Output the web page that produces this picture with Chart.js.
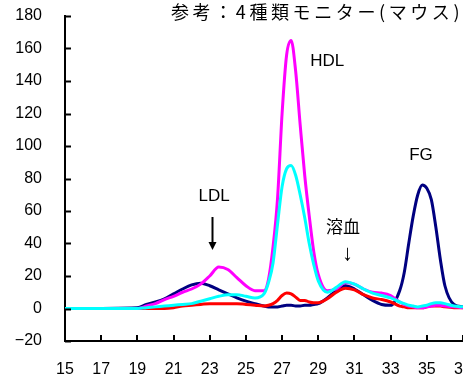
<!DOCTYPE html>
<html>
<head>
<meta charset="utf-8">
<script src="https://cdn.jsdelivr.net/npm/chart.js@4.4.1/dist/chart.umd.min.js"></script>
<style>
  html, body { margin: 0; padding: 0; background: #fff; overflow: hidden; }
  #grafica { display: block; }
</style>
</head>
<body>
<canvas id="grafica" width="500" height="376"></canvas>
<script>
// Posiciones (eje x) y valores de cada curva
const posiciones = [15, 19, 19.5, 20, 20.5, 21, 21.5, 22, 22.5, 23, 23.5, 24, 24.5, 25, 25.5, 26, 26.25, 26.5, 26.75, 27, 27.25, 27.5, 27.75, 28, 28.25, 28.5, 28.75, 29, 29.5, 30, 30.5, 31, 31.5, 32, 32.5, 33, 33.5, 33.75, 34, 34.25, 34.5, 34.75, 35, 35.25, 35.5, 35.75, 36, 36.5, 37];

const serieMagenta = [0, 0, 1.5, 3, 5.5, 7.5, 10, 12, 15, 20, 25.5, 24, 19, 14, 11, 11, 18, 38, 68, 120, 156, 165, 146, 113, 82, 57, 35, 21, 11, 12, 16, 15, 12, 10, 9.5, 8, 4, 2.5, 1.5, 1, 0.5, 0.5, 1, 1.5, 2, 2, 1.5, 1, 0.5];
const serieCian = [0, 0, 0.5, 1, 1.5, 2, 2.5, 3, 4.5, 6, 7.5, 8.5, 8.5, 7.5, 6.5, 9, 16, 28, 52, 75, 86, 88, 82, 70, 56, 40, 27, 17, 10, 13, 16.5, 15, 12, 9.5, 8, 6.5, 4, 3, 2, 1.5, 1, 1.5, 2, 3, 3.5, 3.5, 3, 1.5, 1];
const serieRoja = [0, 0, 0, 0, 0, 0.5, 1.5, 2, 2.5, 3, 3, 3, 3, 2.5, 2, 1.5, 2, 3, 5, 8, 9.5, 9, 7, 5, 5, 4, 3.5, 3.5, 6, 10, 12.5, 11.5, 8.5, 6.5, 5.5, 4, 1.5, 1, 0.5, 0.5, 0.5, 0.5, 1, 1.5, 1.5, 1.5, 1, 0.5, 0.5];
const serieAzul = [0, 0.5, 2.5, 4, 6, 9, 12, 14.5, 15.5, 14, 11.5, 9, 6.5, 4.5, 3, 1.5, 1, 1, 1, 1.5, 2, 2, 1.5, 1.5, 2, 2, 2.5, 3, 6.5, 11, 14, 12, 8.5, 5, 2.5, 2, 11, 22, 40, 57, 70, 76, 74, 67, 50, 30, 14, 2.5, 1];

const ejeX = { min: 15, max: 37, paso: 2 };
const ejeY = { min: -20, max: 180, paso: 20 };

const titulo = "参考：4種類モニター(マウス)";

// Etiquetas de texto sobre la gráfica: [texto, x, y, tamaño]
const etiquetas = [
    ["HDL", 29.5, 152, 17],
    ["FG", 34.68, 94.5, 17],
    ["LDL", 23.24, 69.2, 17],
    ["溶血", 30.37, 49.5, 17],
    ["↓", 30.62, 33.5, 22]
];
const flechaLDL = { x: 23.13, desde: 56.3, hasta: 36 };

function puntos(valores) {
    return posiciones.map((x, i) => ({ x: x, y: valores[i] }));
}

const fuente = "'Liberation Sans', 'Noto Sans CJK JP', Arial, sans-serif";

// Marcas hacia adentro, textos y flecha
const decoraciones = {
    id: "decoraciones",
    afterDraw(chart) {
        const ctx = chart.ctx;
        const x = chart.scales.x;
        const y = chart.scales.y;
        ctx.save();
        ctx.strokeStyle = "#000";
        ctx.lineWidth = 2;
        y.ticks.forEach(t => {
            const py = Math.round(y.getPixelForValue(t.value)) + 0.5;
            ctx.beginPath();
            ctx.moveTo(x.left, py);
            ctx.lineTo(x.left + 6, py);
            ctx.stroke();
        });
        x.ticks.forEach(t => {
            const px = Math.round(x.getPixelForValue(t.value));
            ctx.beginPath();
            ctx.moveTo(px, y.bottom);
            ctx.lineTo(px, y.bottom - 6);
            ctx.stroke();
        });

        ctx.fillStyle = "#000";
        ctx.textAlign = "center";
        ctx.textBaseline = "middle";
        etiquetas.forEach(e => {
            ctx.font = e[3] + "px " + fuente;
            ctx.fillText(e[0], x.getPixelForValue(e[1]), y.getPixelForValue(e[2]));
        });

        // Flecha del LDL
        const fx = Math.round(x.getPixelForValue(flechaLDL.x)) + 0.5;
        const y1 = y.getPixelForValue(flechaLDL.desde);
        const y2 = y.getPixelForValue(flechaLDL.hasta);
        ctx.lineWidth = 2;
        ctx.beginPath();
        ctx.moveTo(fx, y1);
        ctx.lineTo(fx, y2 - 6);
        ctx.stroke();
        ctx.beginPath();
        ctx.moveTo(fx - 4, y2 - 8);
        ctx.lineTo(fx + 4, y2 - 8);
        ctx.lineTo(fx, y2);
        ctx.closePath();
        ctx.fill();

        // Título arriba a la derecha
        ctx.font = "18px 'Noto Sans CJK JP', sans-serif";
        ctx.textAlign = "left";
        ctx.letterSpacing = "3.6px";
        ctx.fillText(titulo, 171, 12);
        ctx.restore();
    }
};

const conjunto = (datos, color) => ({
    data: puntos(datos),
    borderColor: color,
    borderWidth: 3,
    pointRadius: 0,
    fill: false,
    tension: 0.4,
    cubicInterpolationMode: "monotone"
});

new Chart(document.getElementById("grafica"), {
    type: "line",
    data: {
        datasets: [
            conjunto(serieCian, "#00FFFF"),
            conjunto(serieMagenta, "#FF00FF"),
            conjunto(serieRoja, "#FF0000"),
            conjunto(serieAzul, "#000080")
        ]
    },
    options: {
        responsive: false,
        animation: false,
        layout: { padding: { top: 16, right: 37, left: 0, bottom: 0 } },
        plugins: {
            legend: { display: false },
            tooltip: { enabled: false }
        },
        scales: {
            x: {
                type: "linear",
                min: ejeX.min,
                max: ejeX.max,
                grid: { display: false, drawTicks: false },
                border: { display: true, color: "#000", width: 2 },
                ticks: {
                    stepSize: ejeX.paso,
                    padding: 19,
                    color: "#000",
                    font: { family: fuente, size: 16 },
                    maxRotation: 0
                },
                afterFit: s => { s.height = 35; }
            },
            y: {
                min: ejeY.min,
                max: ejeY.max,
                grid: { display: false, drawTicks: false },
                border: { display: true, color: "#000", width: 2 },
                ticks: {
                    stepSize: ejeY.paso,
                    padding: 23,
                    color: "#000",
                    font: { family: fuente, size: 16 },
                    callback: v => String(v).replace("-", "−")
                },
                // ancho fijo del eje y sin relleno extra arriba/abajo
                afterFit: s => { s.width = 65; s.paddingTop = 0; s.paddingBottom = 0; }
            }
        }
    },
    plugins: [decoraciones]
});
</script>
</body>
</html>
